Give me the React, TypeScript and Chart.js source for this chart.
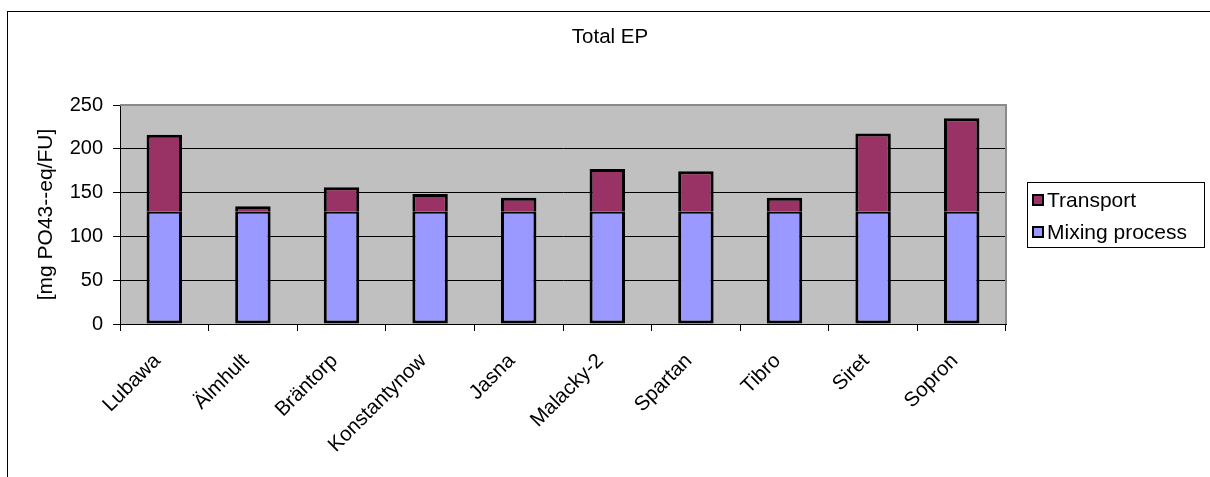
import React, { useEffect, useRef } from "react";
import { Chart, registerables } from "chart.js";

Chart.register(...registerables);

const categories = [
  "Lubawa",
  "Älmhult",
  "Bräntorp",
  "Konstantynow",
  "Jasna",
  "Malacky-2",
  "Spartan",
  "Tibro",
  "Siret",
  "Sopron",
];
const mixingProcess = [128, 128, 128, 128, 128, 128, 128, 128, 128, 128];
const transport = [88, 6.5, 28, 20.5, 16, 49, 46.5, 16, 89.5, 107];
const yTickMin = 0;
const yTickMax = 250;
const yTickStep = 50;
const chartTitle = "Total EP";
const yAxisTitle = "[mg PO43--eq/FU]";
const seriesNames = ["Mixing process", "Transport"];
const seriesColors = ["#9999FF", "#993366"];

const FONT = "'Liberation Sans', Arial, sans-serif";

const decorPlugin = {
  id: "decor",
  beforeDraw(chart: any) {
    const { ctx, chartArea } = chart;
    ctx.save();
    ctx.strokeStyle = "#000";
    ctx.lineWidth = 1;
    ctx.strokeRect(7.5, 11.5, 1300, 600);
    ctx.fillStyle = "#C0C0C0";
    ctx.fillRect(
      chartArea.left,
      chartArea.top,
      chartArea.right - chartArea.left,
      chartArea.bottom - chartArea.top
    );
    ctx.fillStyle = "#000";
    ctx.font = `20.5px ${FONT}`;
    ctx.textAlign = "center";
    ctx.textBaseline = "middle";
    ctx.fillText(chartTitle, 610, 37);
    ctx.restore();
  },
  beforeDatasetsDraw(chart: any) {
    const { ctx, chartArea } = chart;
    ctx.save();
    ctx.strokeStyle = "#8a8a8a";
    ctx.lineWidth = 2;
    ctx.beginPath();
    ctx.moveTo(chartArea.left, chartArea.top);
    ctx.lineTo(chartArea.right, chartArea.top);
    ctx.lineTo(chartArea.right, chartArea.bottom);
    ctx.stroke();
    ctx.restore();
  },
  afterDraw(chart: any) {
    const { ctx } = chart;
    const ds = chart.data.datasets.slice().reverse();
    ctx.save();
    ctx.strokeStyle = "#000";
    ctx.lineWidth = 1;
    ctx.fillStyle = "#fff";
    ctx.fillRect(1027, 182, 178, 66);
    ctx.strokeRect(1027.5, 182.5, 177, 65);
    ctx.font = `21px ${FONT}`;
    ctx.textAlign = "left";
    ctx.textBaseline = "middle";
    ds.forEach((d: any, i: number) => {
      const cy = 200 + i * 32;
      ctx.fillStyle = d.backgroundColor;
      ctx.fillRect(1032, cy - 6, 12, 12);
      ctx.strokeStyle = "#000";
      ctx.lineWidth = 2;
      ctx.strokeRect(1033, cy - 5, 10, 10);
      ctx.fillStyle = "#000";
      ctx.fillText(d.label, 1047, cy + 1);
    });
    ctx.restore();
  },
};

export default function App() {
  const canvasRef = useRef<HTMLCanvasElement | null>(null);

  useEffect(() => {
    const canvas = canvasRef.current;
    if (!canvas) return;
    const chart = new Chart(canvas, {
      type: "bar",
      data: {
        labels: categories,
        datasets: [
          {
            label: seriesNames[0],
            data: mixingProcess,
            backgroundColor: seriesColors[0],
            borderColor: "#000",
            borderWidth: { top: 2, left: 3, right: 3, bottom: 3 },
            borderSkipped: false,
            barPercentage: 0.4,
            categoryPercentage: 1,
          },
          {
            label: seriesNames[1],
            data: transport,
            backgroundColor: seriesColors[1],
            borderColor: "#000",
            borderWidth: { top: 3, left: 3, right: 3, bottom: 0 },
            borderSkipped: false,
            barPercentage: 0.4,
            categoryPercentage: 1,
          },
        ],
      },
      plugins: [decorPlugin],
      options: {
        responsive: false,
        animation: false,
        devicePixelRatio: 1,
        layout: { padding: { top: 105, right: 204, bottom: 0, left: 0 } },
        plugins: {
          legend: { display: false },
          title: { display: false },
          tooltip: { enabled: false },
        },
        scales: {
          x: {
            stacked: true,
            offset: true,
            grid: {
              display: true,
              drawOnChartArea: false,
              drawTicks: true,
              tickLength: 7,
              tickColor: "#000",
              offset: true,
            },
            border: { display: true, color: "#000", width: 1 },
            ticks: {
              autoSkip: false,
              maxRotation: 45,
              minRotation: 45,
              padding: 18,
              labelOffset: -7,
              color: "#000",
              font: { family: FONT, size: 20.5 },
            },
            afterFit: (s: any) => {
              s.height = 153;
            },
          },
          y: {
            stacked: true,
            min: yTickMin,
            max: yTickMax,
            ticks: {
              stepSize: yTickStep,
              padding: 10,
              color: "#000",
              font: { family: FONT, size: 20 },
            },
            grid: {
              color: (c: any) =>
                c.tick && c.tick.value === yTickMax ? "rgba(0,0,0,0)" : "#000",
              tickColor: "#000",
              tickLength: 7,
              lineWidth: 1,
            },
            border: { display: true, color: "#000", width: 1 },
            title: {
              display: true,
              text: yAxisTitle,
              color: "#000",
              font: { family: FONT, size: 21 },
              padding: { top: 34, bottom: 0 },
            },
            afterFit: (s: any) => {
              s.width = 120;
            },
          },
        },
      },
    });
    return () => chart.destroy();
  }, []);

  return (
    <div
      style={{
        position: "fixed",
        left: 0,
        top: 0,
        width: 1210,
        height: 477,
        background: "#fff",
      }}
    >
      <canvas
        ref={canvasRef}
        width={1210}
        height={477}
        style={{ width: 1210, height: 477, display: "block" }}
      />
    </div>
  );
}
